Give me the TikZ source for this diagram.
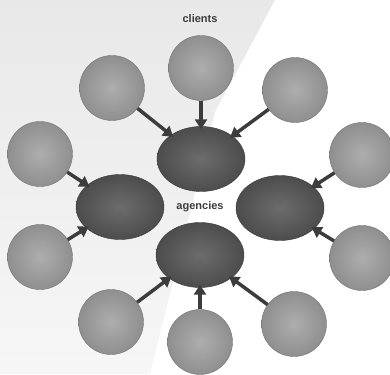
\documentclass[tikz,border=0pt]{standalone}
\usepackage{fontspec}
\setsansfont{Liberation Sans}
\usetikzlibrary{arrows.meta,shapes.geometric}
\definecolor{ink}{HTML}{3C3C3C}
\definecolor{paper}{HTML}{DCDCDC}

\begin{document}
\begin{tikzpicture}[x=1pt,y=-1pt,
 client/.style={circle,minimum size=65pt,inner sep=0pt,draw=gray!90!black,inner color=gray!64,outer color=gray!88},
 agency/.style={ellipse,minimum width=88pt,minimum height=65pt,inner sep=0pt,draw=gray!45!black,inner color=gray!85!black,outer color=gray!60!black},
 feed/.style={-{Triangle[length=10pt,width=12pt]},ink,line width=3.5pt,shorten >=-3pt},
 tag/.style={font=\sffamily\bfseries\fontsize{11}{13}\selectfont,text=ink}]
 \useasboundingbox (0,0) rectangle (390,374);
 \fill[white] (0,0) rectangle (390,374);
 \shade[top color=paper!65,bottom color=paper!25] (0,0) -- (275,0) -- (215,112) -- (150,374) -- (0,374) -- cycle;
 \node[tag] (clients) at (200,19) {clients};
 \node[tag] (agencies) at (200,207) {agencies};
 % agencies
 \node[agency] (aTop) at (201,159) {}; \node[agency] (aLeft) at (120,207) {};
 \node[agency] (aRight) at (280,208) {}; \node[agency] (aBot) at (200,255) {};
 % clients
 \node[client] (cTop) at (201,68) {}; \node[client] (cTopL) at (112,88) {};
 \node[client] (cTopR) at (295,90) {};
 \node[client] (cLeft) at (40,154) {}; \node[client] (cLeftLow) at (40,257) {};
 \node[client] (cRight) at (362,155) {}; \node[client] (cRightLow) at (362,258) {};
 \node[client] (cBotL) at (111,322) {}; \node[client] (cBot) at (200,342) {};
 \node[client] (cBotR) at (294,324) {};
 % arrows
 \draw[feed] (cTop) -- (aTop); \draw[feed] (cTopL) -- (aTop); \draw[feed] (cTopR) -- (aTop);
 \draw[feed] (cLeft) -- (aLeft); \draw[feed] (cLeftLow) -- (aLeft);
 \draw[feed] (cRight) -- (aRight); \draw[feed] (cRightLow) -- (aRight);
 \draw[feed] (cBotL) -- (aBot); \draw[feed] (cBot) -- (aBot); \draw[feed] (cBotR) -- (aBot);
\end{tikzpicture}
\end{document}
